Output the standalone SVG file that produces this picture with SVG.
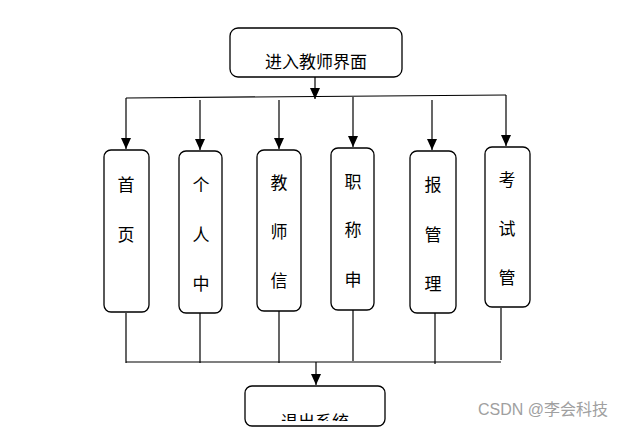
<svg xmlns="http://www.w3.org/2000/svg" width="630" height="427" viewBox="0 0 630 427">
<style>
.box{fill:#fff;stroke:#000;stroke-width:1.3}
.t{font-family:"Liberation Sans","Noto Sans CJK SC",sans-serif;font-size:17px;fill:#000;text-anchor:middle}
.c{stroke:#000;stroke-width:1.2;fill:none}
</style>
<defs>
<marker id="b" markerWidth="10" markerHeight="11" refX="5" refY="11" markerUnits="userSpaceOnUse" viewBox="0 0 10 11"><path d="M0,0 L10,0 L5,11 Z" fill="#000"/></marker>
<clipPath id="cl"><rect x="245" y="386" width="140" height="35"/></clipPath>
</defs>
<rect width="630" height="427" fill="#fff"/>
<g id="connectors">
<path class="c" d="M315,77 V99" marker-end="url(#b)"/>
<path class="c" d="M126,98 L506,95"/>
<path class="c" d="M126,98 V149" marker-end="url(#b)"/>
<path class="c" d="M200,100 V150" marker-end="url(#b)"/>
<path class="c" d="M279,100 V149" marker-end="url(#b)"/>
<path class="c" d="M353,97 V147" marker-end="url(#b)"/>
<path class="c" d="M432,100 V150" marker-end="url(#b)"/>
<path class="c" d="M506,95 V146" marker-end="url(#b)"/>
<path class="c" d="M126,313 V363 M200,313 V363 M279,311 V363 M353,310 V361 M435,313 V364 M501,308 V360"/>
<path class="c" d="M126,362 H501"/>
<path class="c" d="M316,362 V385" marker-end="url(#b)"/>
</g>
<g id="top"><rect class="box" x="230" y="28" width="172" height="49" rx="8"/><text class="t" x="316" y="68" font-size="16">进入教师界面</text></g>
<g id="n1"><rect class="box" x="104" y="150" width="45" height="162" rx="7"/><text class="t" x="126" y="191">首</text><text class="t" x="126" y="241">页</text></g>
<g id="n2"><rect class="box" x="179" y="151" width="43" height="162" rx="7"/><text class="t" x="201" y="191">个</text><text class="t" x="201" y="241">人</text><text class="t" x="201" y="290">中</text></g>
<g id="n3"><rect class="box" x="257" y="150" width="44" height="161" rx="7"/><text class="t" x="279" y="189">教</text><text class="t" x="279" y="238">师</text><text class="t" x="279" y="287">信</text></g>
<g id="n4"><rect class="box" x="331" y="148" width="43" height="162" rx="7"/><text class="t" x="353" y="188">职</text><text class="t" x="353" y="236">称</text><text class="t" x="353" y="286">申</text></g>
<g id="n5"><rect class="box" x="410" y="151" width="46" height="162" rx="7"/><text class="t" x="433" y="191">报</text><text class="t" x="433" y="241">管</text><text class="t" x="433" y="290">理</text></g>
<g id="n6"><rect class="box" x="485" y="147" width="45" height="160" rx="7"/><text class="t" x="507" y="186">考</text><text class="t" x="507" y="235">试</text><text class="t" x="507" y="284">管</text></g>
<g id="bottom"><rect class="box" x="245" y="386" width="140" height="40" rx="7"/><text class="t" x="315" y="428" font-size="16" clip-path="url(#cl)">退出系统</text></g>
<text x="478" y="415" font-family="'Liberation Sans','Noto Sans CJK SC',sans-serif" font-size="16" fill="#a0a0a0">CSDN @李会科技</text>
</svg>
